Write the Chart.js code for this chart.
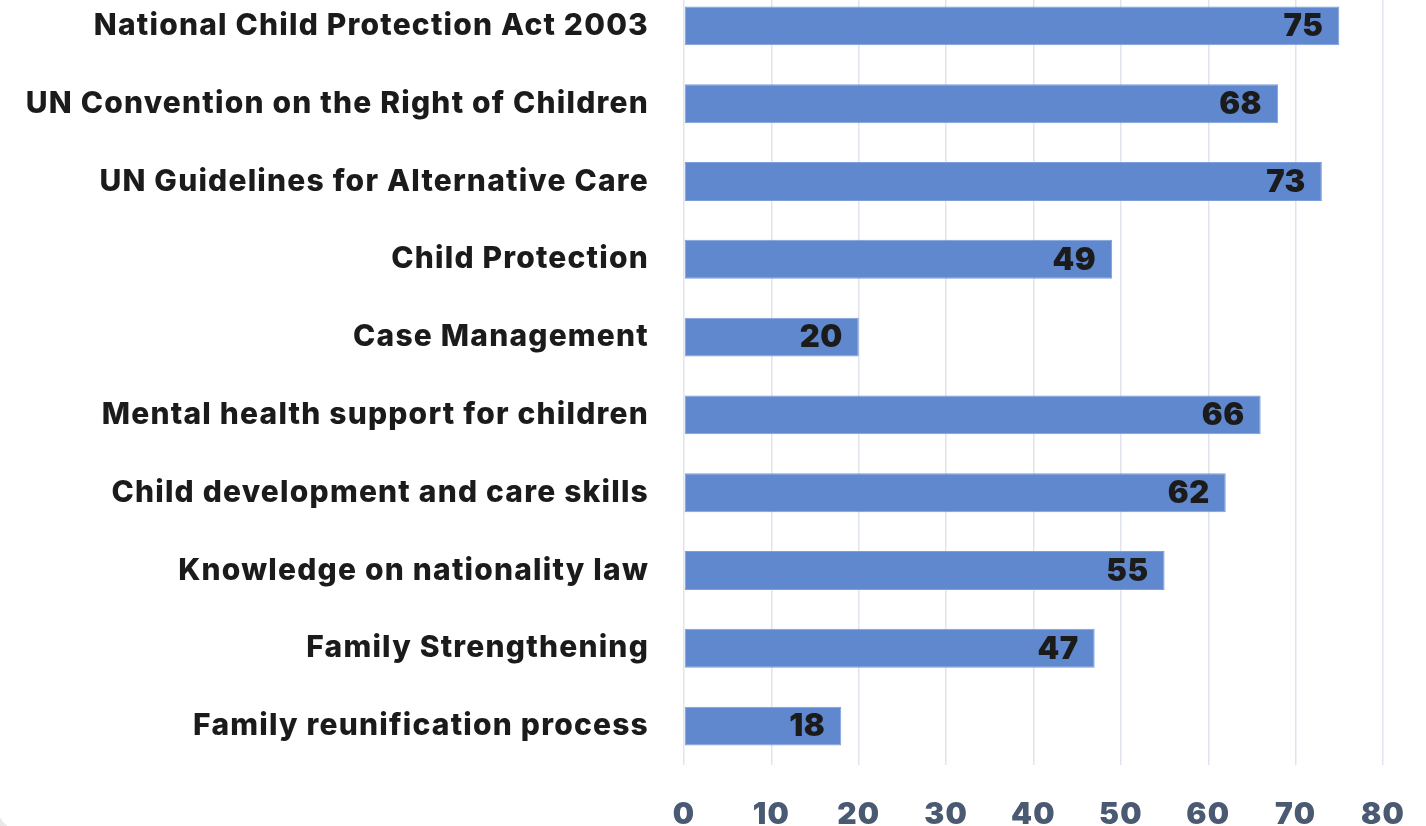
<!DOCTYPE html>
<html>
<head>
<meta charset="utf-8">
<script src="https://cdn.jsdelivr.net/npm/chart.js@4.4.1/dist/chart.umd.min.js"></script>
<style>
html,body{margin:0;padding:0;width:1426px;height:826px;overflow:hidden;background:#e9e9e9;}
#card{position:absolute;left:-3px;top:-60px;width:1500px;height:891px;background:#fff;border-radius:26px;}
#wrap{position:absolute;left:0;top:-13px;width:1426px;height:839px;}
</style>
</head>
<body>
<div id="card"></div>
<div id="wrap"><canvas id="c"></canvas></div>
<script>
const categories = [
  "National Child Protection Act 2003",
  "UN Convention on the Right of Children",
  "UN Guidelines for Alternative Care",
  "Child Protection",
  "Case Management",
  "Mental health support for children",
  "Child development and care skills",
  "Knowledge on nationality law",
  "Family Strengthening",
  "Family reunification process"
];
const values = [75, 68, 73, 49, 20, 66, 62, 55, 47, 18];
const xTicks = [0, 10, 20, 30, 40, 50, 60, 70, 80];

const FONT = "Inter, 'Noto Sans', sans-serif";

const spacing = {
  id: 'spacing',
  beforeDraw(chart) { chart.ctx.letterSpacing = '1.2px'; }
};

const valueLabels = {
  id: 'valueLabels',
  afterDatasetsDraw(chart) {
    const ctx = chart.ctx;
    const meta = chart.getDatasetMeta(0);
    ctx.save();
    ctx.letterSpacing = '0.5px';
    ctx.font = "900 31px " + FONT;
    ctx.fillStyle = '#1b1b1b';
    ctx.textAlign = 'right';
    ctx.textBaseline = 'middle';
    meta.data.forEach((bar, i) => {
      ctx.fillText(String(values[i]), bar.x - 16, bar.y + 1);
    });
    ctx.restore();
  }
};

new Chart(document.getElementById('c'), {
  type: 'bar',
  data: {
    labels: categories,
    datasets: [{
      data: values,
      backgroundColor: '#6088cf',
      borderColor: '#7c9edc',
      borderWidth: 1,
      borderSkipped: false,
      barPercentage: 0.5,
      categoryPercentage: 1.0
    }]
  },
  options: {
    indexAxis: 'y',
    responsive: true,
    maintainAspectRatio: false,
    animation: false,
    layout: { padding: { top: 0, right: 43, bottom: 0, left: 0 } },
    plugins: { legend: { display: false }, tooltip: { enabled: false } },
    scales: {
      x: {
        min: 0, max: 80,
        afterBuildTicks(scale) { scale.ticks = xTicks.map(v => ({ value: v })); },
        afterFit(scale) { scale.height = 61; scale.paddingLeft = 0; scale.paddingRight = 0; },
        grid: { color: '#dfe4ed', lineWidth: 1.5, drawTicks: false },
        border: { display: false },
        ticks: { color: '#4a5a72', padding: 32, font: { family: FONT, size: 30, weight: '900' } }
      },
      y: {
        afterFit(scale) { scale.width = 684; scale.paddingTop = 0; scale.paddingBottom = 0; },
        grid: { display: false, drawTicks: false },
        border: { display: false },
        ticks: { color: '#1b1b1b', padding: 35, font: { family: FONT, size: 30, weight: '800' } }
      }
    }
  },
  plugins: [spacing, valueLabels]
});
</script>
</body>
</html>
